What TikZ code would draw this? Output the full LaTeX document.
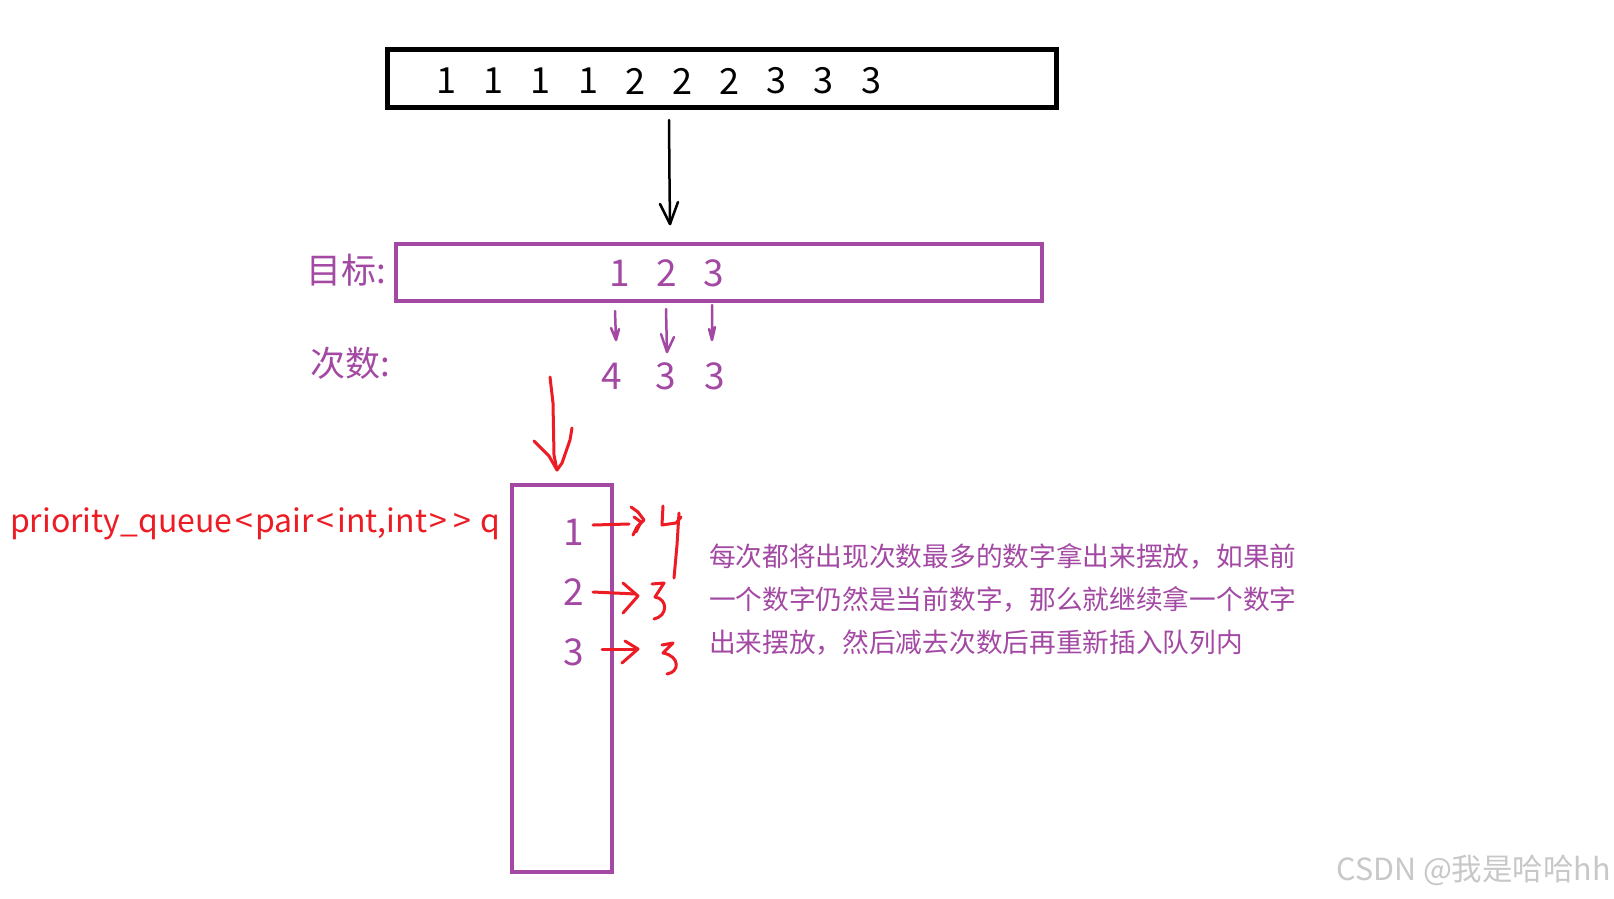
\documentclass[tikz,border=0pt]{standalone}
\usepackage{fontspec}
\setmainfont{Noto Sans CJK SC}
\definecolor{pp}{HTML}{A349A4}
\definecolor{rd}{HTML}{ED1C24}
\definecolor{wm}{HTML}{C8C8C8}
\newcommand{\lt}{\kern2.7pt<\kern2.7pt}
\newcommand{\gt}{\kern2.7pt>\kern2.7pt}
\tikzset{
  txt/.style={inner sep=0pt, outer sep=0pt},
  boxnode/.style={draw, inner sep=0pt, outer sep=0pt},
  hand/.style={line cap=round, line join=round},
}
\begin{document}
\begin{tikzpicture}[x=1pt,y=-1pt]
\useasboundingbox[fill=white] (0,0) rectangle (1614,898);
% top box
\node[boxnode, draw=black, line width=5pt, minimum width=669pt, minimum height=58pt] (top) at (722,78) {};
\foreach \v/\x [count=\i] in {1/446,1/493,1/540,1/588,2/635,2/682,2/729,3/776,3/823,3/871}
  \node[txt, font=\fontsize{36}{40}\selectfont] (t\i) at (\x,81) {\v};
% purple box
\node[boxnode, draw=pp, line width=4pt, minimum width=646pt, minimum height=57pt] (goal) at (719,272) {};
\node[txt, text=pp, font=\fontsize{35}{40}\selectfont] (goallbl) at (346,270) {目标:};
\node[txt, text=pp, font=\fontsize{37}{40}\selectfont] (g1) at (620,273) {1};
\node[txt, text=pp, font=\fontsize{37}{40}\selectfont] (g2) at (667,273) {2};
\node[txt, text=pp, font=\fontsize{37}{40}\selectfont] (g3) at (714,273) {3};
\node[txt, text=pp, font=\fontsize{35}{40}\selectfont] (cntlbl) at (350,363) {次数:};
\node[txt, text=pp, font=\fontsize{37}{40}\selectfont] (c1) at (612,376) {4};
\node[txt, text=pp, font=\fontsize{37}{40}\selectfont] (c2) at (666,376) {3};
\node[txt, text=pp, font=\fontsize{37}{40}\selectfont] (c3) at (715,376) {3};
% black arrow
\coordinate (ba1) at (669,120);
\coordinate (ba2) at (670,224);
\draw[hand, line width=2.5pt] (ba1) -- (669.5,180) -- (ba2);
\draw[hand, line width=2.5pt] (660,204) -- (ba2) -- (678,202);
% small purple arrows
\coordinate (p1a) at (615,311); \coordinate (p1b) at (616,340);
\coordinate (p2a) at (666,309); \coordinate (p2b) at (667,352);
\coordinate (p3a) at (712,305); \coordinate (p3b) at (712,340);
\draw[hand, draw=pp, line width=2.5pt] (p1a) -- (p1b) (611,328) -- (p1b) -- (619,329);
\draw[hand, draw=pp, line width=2.5pt] (p2a) -- (p2b) (661,334) -- (p2b) -- (674,337);
\draw[hand, draw=pp, line width=2.5pt] (p3a) -- (p3b) (709,329) -- (p3b) -- (715,327);
% red arrow
\coordinate (ra1) at (550,377);
\coordinate (ra2) at (557,470);
\draw[hand, draw=rd, line width=3pt] (ra1) -- (553,403) -- (554,455) -- (ra2);
\draw[hand, draw=rd, line width=3pt] (534,441) -- (549,456) -- (ra2) -- (562,463) -- (570,440) -- (572,428);
% tall box
\node[boxnode, draw=pp, line width=4pt, minimum width=100pt, minimum height=387pt] (pq) at (562,678.5) {};
\node[txt, text=rd, font=\fontsize{32}{40}\selectfont, anchor=base west] (pqlbl) at (10,532) {priority\_queue\lt pair\lt int,int\gt\gt{} q};
\node[txt, text=pp, font=\fontsize{37}{40}\selectfont] (q1) at (574,532) {1};
\node[txt, text=pp, font=\fontsize{37}{40}\selectfont] (q2) at (574,592) {2};
\node[txt, text=pp, font=\fontsize{37}{40}\selectfont] (q3) at (574,652) {3};
% red hand arrows and numbers
\coordinate (r1a) at (593,525); \coordinate (r1b) at (629,524);
\draw[hand, draw=rd, line width=3pt] (r1a) -- (r1b);
\draw[hand, draw=rd, line width=3pt] (631,507) -- (638,512) -- (644,520) -- (637,527) -- (633,535);
\draw[hand, draw=rd, line width=3pt] (634,517) -- (641,522) -- (636,532);
\draw[hand, draw=rd, line width=3pt] (663,506) -- (662,525) -- (676,523) -- (681,517);
\draw[hand, draw=rd, line width=3pt] (679,513) -- (677,545) -- (674,578);
\coordinate (r2a) at (593,592); \coordinate (r2b) at (636,594);
\draw[hand, draw=rd, line width=3pt] (r2a) -- (r2b);
\draw[hand, draw=rd, line width=3pt] (623,583) -- (638,596) -- (623,613);
\draw[hand, draw=rd, line width=3pt] (652,584) -- (664,583) -- (655,597) .. controls (668,599) and (668,616) .. (654,619);
\coordinate (r3a) at (602,649); \coordinate (r3b) at (637,649);
\draw[hand, draw=rd, line width=3pt] (r3a) -- (r3b);
\draw[hand, draw=rd, line width=3pt] (625,641) -- (638,649) -- (622,663);
\draw[hand, draw=rd, line width=3pt] (662,645) -- (673,643) -- (663,653) .. controls (680,656) and (680,672) .. (667,674);
% explanation
\node[txt, text=pp, font=\fontsize{26.7}{30}\selectfont, anchor=west] (e1) at (709,556) {每次都将出现次数最多的数字拿出来摆放，如果前};
\node[txt, text=pp, font=\fontsize{26.7}{30}\selectfont, anchor=west] (e2) at (709,599) {一个数字仍然是当前数字，那么就继续拿一个数字};
\node[txt, text=pp, font=\fontsize{26.7}{30}\selectfont, anchor=west] (e3) at (709,643) {出来摆放，然后减去次数后再重新插入队列内};
% watermark
\node[txt, text=wm, font=\fontsize{30.5}{32}\selectfont, anchor=east] (wmk) at (1611,870) {CSDN @我是哈哈hh};
\end{tikzpicture}
\end{document}
